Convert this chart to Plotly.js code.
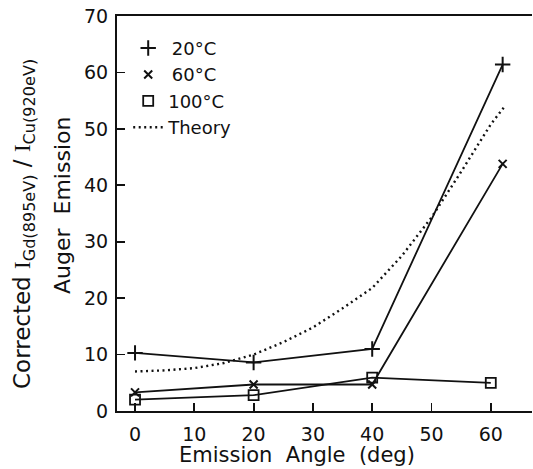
<!DOCTYPE html>
<html>
<head>
<meta charset="utf-8">
<script src="https://cdn.plot.ly/plotly-3.0.1.min.js"></script>
<style>html,body{margin:0;padding:0;background:#fff;}#chart{width:533px;height:469px;}</style>
</head>
<body>
<div id="chart"></div>
<script>
// Emission angle (deg) for each series
const angles20 = [0, 20, 40, 62];
const values20 = [10.3, 8.6, 11.0, 61.4];
const angles60 = [0, 20, 40, 62];
const values60 = [3.3, 4.7, 4.7, 43.8];
const angles100 = [0, 20, 40, 60];
const values100 = [2.0, 2.8, 5.9, 5.0];
const theoryAngles = [0, 5, 10, 15, 20, 25, 30, 35, 40, 45, 50, 55, 60, 62.5];
const theoryValues = [7.0, 7.2, 7.6, 8.5, 10.0, 12.2, 14.8, 18.2, 21.8, 27.5, 34.3, 42.4, 50.8, 54.2];
const xTicks = [0, 10, 20, 30, 40, 50, 60];
const yTicks = [0, 10, 20, 30, 40, 50, 60, 70];
const seriesNames = ['\u200920\u00B0C', '\u200960\u00B0C', '100\u00B0C', 'Theory'];

const FONT = 'DejaVu Sans, sans-serif';
const INK = '#111';
const lineStyle = {color: INK, width: 1.8};
const plusMarker = {symbol: 'cross-thin-open', size: 11, color: INK, line: {color: INK, width: 2}};
const xMarker = {symbol: 'x-thin-open', size: 8, color: INK, line: {color: INK, width: 2}};
const sqMarker = {symbol: 'square-open', size: 10, color: INK, line: {color: INK, width: 1.8}};
const dotLine = {color: INK, width: 2.4, dash: '2px,3.5px'};

const traces = [
  {x: angles20, y: values20, mode: 'lines+markers', showlegend: false, line: lineStyle, marker: plusMarker},
  {x: angles60, y: values60, mode: 'lines+markers', showlegend: false, line: lineStyle, marker: xMarker},
  {x: angles100, y: values100, mode: 'lines+markers', showlegend: false, line: lineStyle, marker: sqMarker},
  {x: theoryAngles, y: theoryValues, mode: 'lines', showlegend: false, line: dotLine},
  // legend entries
  {x: [null], y: [null], mode: 'markers', name: seriesNames[0], legendgroup: 'a', marker: plusMarker},
  {x: [null], y: [null], mode: 'markers', name: seriesNames[1], legendgroup: 'b', marker: xMarker},
  {x: [null], y: [null], mode: 'markers', name: seriesNames[2], legendgroup: 'c', marker: sqMarker},
  {x: [null], y: [null], mode: 'lines', name: seriesNames[3], legendgroup: 'd', line: dotLine}
];

const layout = {
  width: 533, height: 469,
  margin: {l: 117, r: 1, t: 16, b: 58},
  paper_bgcolor: '#fff', plot_bgcolor: '#fff',
  font: {family: FONT, size: 18, color: INK},
  showlegend: true,
  legend: {x: 0.027, y: 0.965, xanchor: 'left', yanchor: 'top', bgcolor: 'rgba(0,0,0,0)',
           font: {family: FONT, size: 18, color: INK}, traceorder: 'grouped', tracegroupgap: 0},
  xaxis: {range: [-3.04, 66.95], tickvals: xTicks, ticktext: xTicks.map(String),
          ticks: 'inside', ticklen: 8, tickwidth: 1.8, tickcolor: INK,
          showline: true, linecolor: INK, linewidth: 2, mirror: true,
          showgrid: false, zeroline: false, ticklabelstandoff: 5,
          tickfont: {family: FONT, size: 19, color: INK}},
  yaxis: {range: [0, 70], tickvals: yTicks, ticktext: yTicks.map(String),
          ticks: 'inside', ticklen: 8, tickwidth: 1.8, tickcolor: INK,
          showline: true, linecolor: INK, linewidth: 2,
          showgrid: false, zeroline: false, ticklabelstandoff: 3,
          tickfont: {family: FONT, size: 19, color: INK}},
  annotations: [
    {text: 'Emission  Angle  (deg)', xref: 'paper', yref: 'paper',
     x: (297 - 117) / 415, y: (411 - 455) / 395, xanchor: 'center', yanchor: 'middle',
     showarrow: false, font: {family: FONT, size: 21, color: INK}},
    {text: 'Corrected <span style="font-family:Liberation Serif">I</span><sub>Gd(895eV)</sub> / <span style="font-family:Liberation Serif">I</span><sub>Cu(920eV)</sub>',
     xref: 'paper', yref: 'paper', textangle: -90,
     x: (24 - 117) / 415, y: (411 - 224) / 395, xanchor: 'center', yanchor: 'middle',
     showarrow: false, font: {family: FONT, size: 23, color: INK}},
    {text: 'Auger  Emission', xref: 'paper', yref: 'paper', textangle: -90,
     x: (62 - 117) / 415, y: (411 - 205) / 395, xanchor: 'center', yanchor: 'middle',
     showarrow: false, font: {family: FONT, size: 22, color: INK}}
  ]
};

Plotly.newPlot('chart', traces, layout, {staticPlot: true, displayModeBar: false});
</script>
</body>
</html>
